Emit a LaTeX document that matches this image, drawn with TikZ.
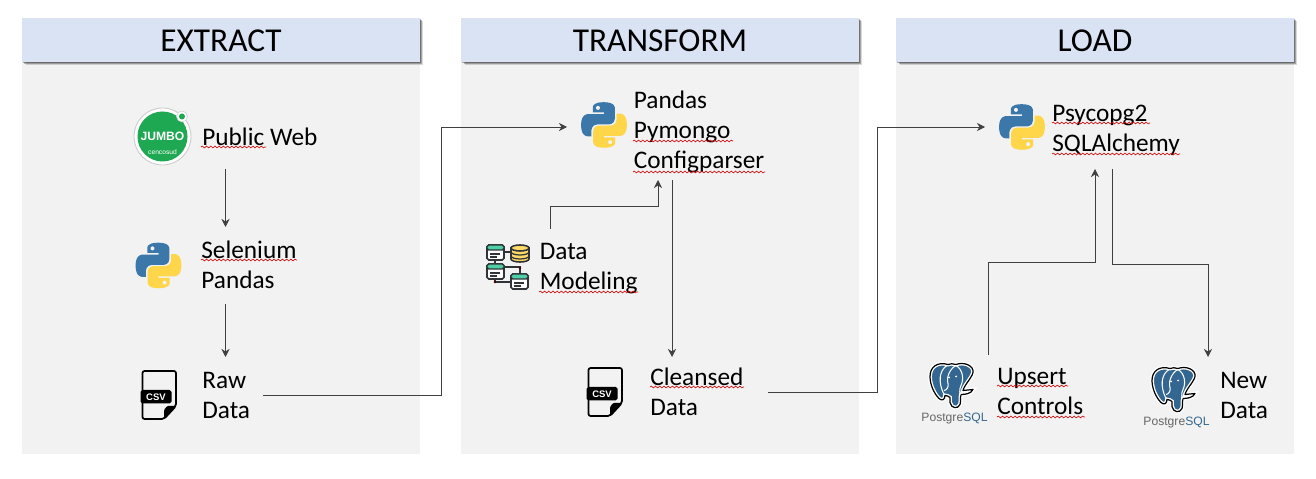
\documentclass[tikz,border=0pt]{standalone}
\usepackage{fontspec}
\setmainfont{Carlito}
\newfontfamily\arialfont{Liberation Sans}
\usepackage{xcolor}
\usepackage{tikz}
\usetikzlibrary{arrows.meta}
\usetikzlibrary{decorations.pathmorphing}
\usetikzlibrary{shadows}
\definecolor{panelgray}{HTML}{F2F2F2}
\definecolor{headblue}{HTML}{DAE3F3}
\definecolor{flowgray}{HTML}{404040}
\definecolor{pyblue}{HTML}{3B77A9}
\definecolor{pyyellow}{HTML}{FFD549}
\definecolor{jumbogreen}{HTML}{1DA851}
\definecolor{pgblue}{HTML}{336791}
\definecolor{dbteal}{HTML}{4FCFA6}
\definecolor{dbyellow}{HTML}{FFD966}
\definecolor{dbline}{HTML}{303338}
\tikzset{
  panel/.style={fill=panelgray, minimum width=7.96cm, minimum height=8.72cm, inner sep=0pt},
  head/.style={fill=headblue, minimum width=7.96cm, minimum height=0.88cm, inner sep=0pt,
    font=\fontsize{19pt}{22pt}\selectfont,
    drop shadow={shadow xshift=2pt, shadow yshift=-1.8pt, opacity=0.15, fill=black},
    drop shadow={shadow xshift=1.4pt, shadow yshift=-1.3pt, opacity=0.25, fill=black},
    drop shadow={shadow xshift=0.8pt, shadow yshift=-0.8pt, opacity=0.3, fill=black}},
  txt/.style={anchor=west, align=left, inner sep=0pt, text=black,
    font=\fontsize{14.4pt}{17pt}\selectfont},
  stepbox/.style 2 args={minimum width=#1*0.02cm, minimum height=#2*0.02cm, inner sep=0pt, outer sep=0pt},
  flow/.style={->, >={Stealth[length=4.6pt,width=4.6pt]}, draw=flowgray, line width=0.5pt},
  spell/.style={draw=red!85!black, line width=0.35pt, decorate,
    decoration={snake, amplitude=0.5pt, segment length=2.4pt}},
  pylogo/.pic={
    \begin{scope}[scale=0.418, shift={(-55.4,-55.5)}]
    \fill[pyblue] (54.9,0.9) .. controls (27,0.9) and (28.7,13) .. (28.7,13) -- (28.8,25.6) -- (55.4,25.6) -- (55.4,29.3) -- (18.3,29.3)
      .. controls (18.3,29.3) and (0.5,27.3) .. (0.5,55.4) .. controls (0.5,83.5) and (16,82.5) .. (16,82.5) -- (25.3,82.5) -- (25.3,69.4)
      .. controls (25.3,69.4) and (24.8,53.9) .. (40.5,53.9) -- (66.7,53.9) .. controls (66.7,53.9) and (81.5,54.1) .. (81.5,39.6) -- (81.5,15.6)
      .. controls (81.5,15.6) and (83.7,0.9) .. (54.9,0.9) -- cycle;
    \fill[pyyellow] (55.7,110) .. controls (83.6,110) and (81.9,97.9) .. (81.9,97.9) -- (81.9,85.4) -- (55.2,85.4) -- (55.2,81.6) -- (92.4,81.6)
      .. controls (92.4,81.6) and (110.2,83.6) .. (110.2,55.5) .. controls (110.2,27.4) and (94.7,28.4) .. (94.7,28.4) -- (85.4,28.4) -- (85.4,41.5)
      .. controls (85.4,41.5) and (85.9,57) .. (70.2,57) -- (44,57) .. controls (44,57) and (29.2,56.8) .. (29.2,71.3) -- (29.2,95.3)
      .. controls (29.2,95.3) and (27,110) .. (55.7,110) -- cycle;
    \fill[panelgray] (41,14.5) circle (4.8);
    \fill[panelgray] (70,96.5) circle (4.8);
    \end{scope}
  },
  jumbologo/.pic={
    \fill[white, draw=black!20, line width=0.5pt] (0,0) circle (28.5);
    \fill[jumbogreen] (0,0) circle (25);
    \fill[white, draw=black!20, line width=0.3pt] (19.5,-20) circle (5.5);
    \fill[jumbogreen] (19.5,-20) circle (3);
    \node[text=white, inner sep=0pt, font=\arialfont\bfseries\fontsize{6.9pt}{8pt}\selectfont] (brand) at (0,0) {JUMBO};
    \node[text=white, inner sep=0pt, font=\arialfont\fontsize{3.8pt}{4pt}\selectfont] (sub) at (0,15.5) {cencosud};
  },
  csvfile/.pic={
    \draw[black, line width=1pt, rounded corners=1.2pt] (-16.5,-24) -- (17,-24) -- (17,11) -- (5,24) -- (-16.5,24) -- cycle;
    \fill[black, rounded corners=0.6pt] (17,11) -- (5,24) -- (5,15) -- (8,11) -- cycle;
    \fill[black, rounded corners=1pt] (-18.5,-5) rectangle (12.5,8.5);
    \node[text=white, inner sep=0pt, font=\arialfont\bfseries\fontsize{5.4pt}{6pt}\selectfont] (tag) at (-3,1.8) {CSV};
  },
  pgsql/.pic={
    \path[fill=pgblue, draw=white, line width=2.2pt, postaction={draw=black, line width=0.7pt, line join=round}]
      (-4,-21) .. controls (-14,-24) and (-22,-19) .. (-22,-9)
      .. controls (-22,-1) and (-18,8) .. (-13,13)
      .. controls (-10,16) and (-7,14) .. (-7,10)
      .. controls (-5,10) and (-3,11) .. (-2,12)
      -- (-2,17) .. controls (-1,23) and (6,24) .. (8,19)
      .. controls (9,16) and (8,12) .. (9,9)
      .. controls (14,9) and (19,8) .. (21,4)
      -- (11,5) .. controls (12,0) and (20,-8) .. (21,-13)
      .. controls (22,-20) and (12,-24) .. (4,-21)
      .. controls (1,-22) and (-2,-22) .. (-4,-21) -- cycle;
    \draw[white, line width=0.6pt] (-5,-20) .. controls (-13,-15) and (-14,-3) .. (-8,9);
    \draw[white, line width=0.6pt] (4,-20) .. controls (-2,-17) and (-6,-8) .. (-4,-2) .. controls (-3,2) and (-6,5) .. (-8,5);
    \draw[white, line width=0.6pt] (4,-20) .. controls (11,-16) and (12,-6) .. (9,0) .. controls (7,4) and (8,8) .. (8,10);
    \fill[white] (-3,-8) circle (1);
    \fill[white] (4,-9) circle (1);
    \node[inner sep=0pt, font=\arialfont\fontsize{6.9pt}{8pt}\selectfont, text=black!60] (brand) at (2.5,33.5) {Postgre\textcolor{pgblue}{SQL}};
  },
  dbmodel/.pic={
    \draw[dbline, line width=0.9pt] (-13,-14) -- (3,-14);
    \draw[dbline, line width=0.9pt] (-13,-6) -- (-13,16) -- (3,16);
    \draw[dbline, line width=0.9pt] (-5,1) -- (12,1) -- (12,8);
    \fill[black!70!red] (12,2) circle (1.4);
    \fill[black!70!red] (-13,16) circle (1.4);
    \foreach \bx/\by in {-21/-21, -21/-2, 3/8} {
      \fill[white, draw=dbline, line width=0.9pt, rounded corners=1pt] (\bx,\by) rectangle ++(17,15);
      \fill[dbteal, draw=dbline, line width=0.7pt, rounded corners=1pt] (\bx,\by) rectangle ++(17,5);
      \draw[dbline, line width=0.7pt] (\bx+3,\by+9) -- ++(10,0);
      \draw[dbline, line width=0.7pt] (\bx+3,\by+12) -- ++(7,0);
    }
    \fill[dbyellow, draw=dbline, line width=0.9pt] (3,-18) -- (3,-7) arc[start angle=180, end angle=0, x radius=9, y radius=3] -- (21,-18) -- cycle;
    \fill[dbyellow, draw=dbline, line width=0.9pt] (12,-18) ellipse (9 and 3);
    \draw[dbline, line width=0.7pt] (3,-14) arc[start angle=180, end angle=0, x radius=9, y radius=3];
    \draw[dbline, line width=0.7pt] (3,-10) arc[start angle=180, end angle=0, x radius=9, y radius=3];
  }
}
\begin{document}
\begin{tikzpicture}[x=0.02cm, y=-0.02cm]
\useasboundingbox (0,0) rectangle (1316,479);
\foreach \nm/\xc/\ttl in {ext/221/EXTRACT, tra/660/TRANSFORM, loa/1095/LOAD} {
  \node[panel] (\nm panel) at (\xc,236) {};
  \node[head] (\nm head) at (\xc,40) {\raisebox{0pt}[13.6pt][0pt]{\ttl}};
}
\pic (jumbo) at (162.5,136.5) {jumbologo};
\pic (pyext) at (158.5,265.5) {pylogo};
\pic (csvraw) at (159,395) {csvfile};
\pic (pytra) at (604,125) {pylogo};
\pic (dbm) at (508,266) {dbmodel};
\pic (csvcle) at (605,392) {csvfile};
\pic (pyloa) at (1022,127) {pylogo};
\pic (pgups) at (952,385.5) {pgsql};
\pic (pgnew) at (1174,389.5) {pgsql};
\node[txt] (webtxt) at (202,137) {Public Web};
\node[txt] (seltxt) at (201,265) {Selenium\\Pandas};
\node[txt] (rawtxt) at (202,395.5) {Raw\\Data};
\node[txt] (pantxt) at (633.5,132) {Pandas\\Pymongo\\Configparser};
\node[txt] (modtxt) at (539.5,268.5) {Data\\Modeling};
\node[txt] (cletxt) at (650,392) {Cleansed\\Data};
\node[txt] (psytxt) at (1052,130) {Psycopg2\\SQLAlchemy};
\node[txt] (upstxt) at (997,391.5) {Upsert\\Controls};
\node[txt] (newtxt) at (1220,395.5) {New\\Data};
\node[stepbox={180}{64}] (web) at (225.5,137) {};
\node[stepbox={180}{77}] (sel) at (225.5,265.5) {};
\node[stepbox={75}{76}] (raw) at (225.5,395) {};
\node[stepbox={210}{106}] (pan) at (672,127) {};
\node[stepbox={100}{72}] (mod) at (550,265) {};
\node[stepbox={192}{70}] (cle) at (672,392) {};
\node[stepbox={254}{84}] (psy) at (1112,127) {};
\node[stepbox={100}{70}] (ups) at (988,390) {};
\node[stepbox={100}{76}] (new) at (1208,395) {};
\coordinate (rawbend) at (441,127);
\coordinate (modbend) at (658,206);
\coordinate (clebend) at (877,127);
\coordinate (upsbend) at (1095,262);
\coordinate (psybend) at (1112,264);
\draw [flow] (web) -- (sel);
\draw [flow] (sel) -- (raw);
\draw [flow] (raw.east) -| (rawbend) -- (pan.west);
\draw [flow] (mod.north) |- (modbend) -- (modbend |- pan.south);
\draw [flow] (pan.south) -- (cle.north);
\draw [flow] (cle.east) -| (clebend) -- (psy.west);
\draw [flow] (ups.north) |- (upsbend) -- (upsbend |- psy.south);
\draw [flow] (psy.south) -- (psybend) -| (new.north);
\foreach \xa/\xb/\yy in {201/266/147, 201/297/260, 633/733/141, 633/765/172, 539/638/292, 650/744/387, 1052/1150/123, 1052/1180/154, 997/1068/386, 997/1085/417} {
  \draw [spell] (\xa,\yy) -- (\xb,\yy);
}
\end{tikzpicture}
\end{document}
